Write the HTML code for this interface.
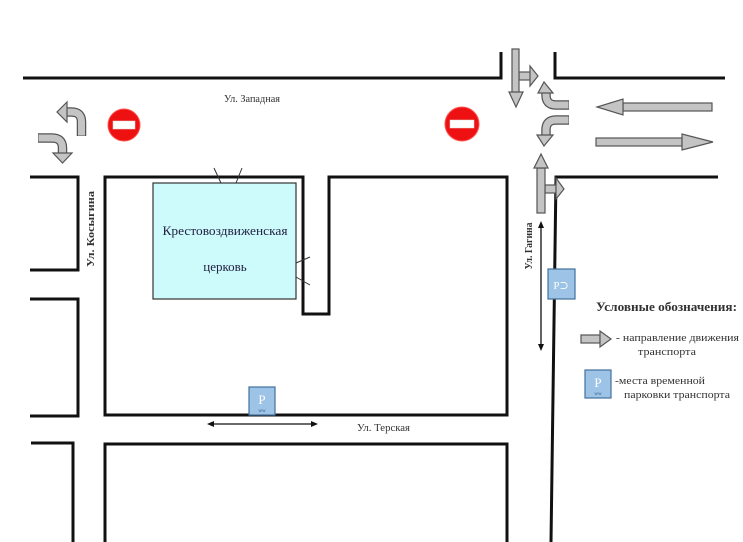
<!DOCTYPE html>
<html><head><meta charset="utf-8">
<style>
html,body{margin:0;padding:0;background:#fff;}
svg{display:block;}
text{font-family:"Liberation Serif","DejaVu Serif",serif;}
</style></head>
<body>
<svg width="743" height="542" viewBox="0 0 743 542" xmlns="http://www.w3.org/2000/svg">
<rect width="743" height="542" fill="#fff"/>
<g fill="none" stroke="#111" stroke-width="3" stroke-linejoin="miter">
  <polyline points="23,78 501,78 501,52"/>
  <polyline points="555,52 555,78 725,78"/>
  <polyline points="30,177 78,177 78,270 30,270"/>
  <polyline points="30,299 78,299 78,416 30,416"/>
  <polyline points="31,443 73,443 73,542"/>
  <path d="M105,177 L303,177 L303,314 L329,314 L329,177 L507,177 L507,415 L105,415 Z"/>
  <polyline points="105,542 105,444 507,444 507,542"/>
  <polyline points="718,177 556,177 551,542"/>
</g>

<!-- church -->
<rect x="153" y="183" width="143" height="116" fill="#cdfafa" stroke="#333" stroke-width="1.2"/>
<g stroke="#333" stroke-width="1">
  <line x1="214" y1="168" x2="221" y2="183"/>
  <line x1="242" y1="168" x2="236" y2="183"/>
  <line x1="296" y1="263" x2="310" y2="257"/>
  <line x1="296" y1="277" x2="310" y2="285"/>
</g>
<text x="225" y="235" font-size="13" fill="#224" text-anchor="middle" textLength="125" lengthAdjust="spacingAndGlyphs">Крестовоздвиженская</text>
<text x="225" y="271" font-size="13" fill="#224" text-anchor="middle">церковь</text>

<!-- no entry signs -->
<circle cx="124" cy="125" r="16" fill="#e11" stroke="#f55" stroke-width="1"/>
<rect x="113" y="121" width="22" height="8" fill="#fff" stroke="#ddd" stroke-width="0.5"/>
<circle cx="462" cy="124" r="17" fill="#e11" stroke="#f55" stroke-width="1"/>
<rect x="450" y="120" width="24" height="8" fill="#fff" stroke="#ddd" stroke-width="0.5"/>

<!-- street labels -->
<text x="224" y="102" font-size="10" fill="#333" textLength="56" lengthAdjust="spacingAndGlyphs">Ул. Западная</text>
<text x="357" y="431" font-size="10" fill="#333" textLength="53" lengthAdjust="spacingAndGlyphs">Ул. Терская</text>
<text transform="translate(94,229) rotate(-90)" font-size="10" font-weight="bold" fill="#333" text-anchor="middle" textLength="76" lengthAdjust="spacingAndGlyphs">Ул. Косыгина</text>
<text transform="translate(532,246) rotate(-90)" font-size="10" font-weight="bold" fill="#333" text-anchor="middle" textLength="47" lengthAdjust="spacingAndGlyphs">Ул. Гагина</text>

<!-- gray block arrows -->
<g fill="#c4c4c4" stroke="#555" stroke-width="1.2" stroke-linejoin="miter">
  <!-- left curved arrows -->
  <path d="M81.5,136 L81.5,122 Q81.5,112 71.5,112 L66,112" fill="none" stroke="#555" stroke-width="9.5"/>
  <path d="M81.5,135.5 L81.5,122 Q81.5,112 71.5,112 L66,112" fill="none" stroke="#c4c4c4" stroke-width="7"/>
  <polygon points="67,102 57,112 67,122"/>
  <path d="M38,138 L52,138 Q62.5,138 62.5,148 L62.5,154" fill="none" stroke="#555" stroke-width="9.5"/>
  <path d="M38.5,138 L52,138 Q62.5,138 62.5,148 L62.5,154" fill="none" stroke="#c4c4c4" stroke-width="7"/>
  <polygon points="53,153 72,153 62.5,163"/>

  <!-- down arrow with right branch -->
  <rect x="519" y="72" width="12" height="8"/>
  <polygon points="530,66 538,76 530,86"/>
  <rect x="512" y="49" width="7" height="44"/>
  <polygon points="509,92 523,92 516,107"/>

  <!-- curved up -->
  <path d="M569,105 L556,105 Q546,105 546,95 L546,92" fill="none" stroke="#555" stroke-width="9.5"/>
  <path d="M568.5,105 L556,105 Q546,105 546,95 L546,92" fill="none" stroke="#c4c4c4" stroke-width="7"/>
  <polygon points="538,93 553,93 544,82"/>
  <!-- curved down -->
  <path d="M569,120 L556,120 Q546,120 546,130 L546,136" fill="none" stroke="#555" stroke-width="9.5"/>
  <path d="M568.5,120 L556,120 Q546,120 546,130 L546,136" fill="none" stroke="#c4c4c4" stroke-width="7"/>
  <polygon points="537,135 553,135 544,146"/>

  <!-- up arrow with right branch -->
  <rect x="545" y="185" width="11" height="8"/>
  <polygon points="556,178 564,189 556,199"/>
  <rect x="537" y="168" width="8" height="45"/>
  <polygon points="534,168 548,168 541,154"/>

  <!-- horizontal arrows -->
  <rect x="623" y="103" width="89" height="8"/>
  <polygon points="623,99 623,115 597,107"/>
  <rect x="596" y="138" width="86" height="8"/>
  <polygon points="682,134 682,150 713,142"/>

  <!-- legend arrow -->
  <rect x="581" y="335" width="19" height="8"/>
  <polygon points="600,331 600,347 611,339"/>
</g>

<!-- double-headed arrows -->
<g stroke="#111" stroke-width="1.3" fill="#111">
  <line x1="541" y1="226" x2="541" y2="346"/>
  <polygon points="538,228 544,228 541,221" stroke="none"/>
  <polygon points="538,344 544,344 541,351" stroke="none"/>
  <line x1="212" y1="424" x2="313" y2="424"/>
  <polygon points="214,421 214,427 207,424" stroke="none"/>
  <polygon points="311,421 311,427 318,424" stroke="none"/>
</g>

<!-- parking icons -->
<g>
  <rect x="548" y="269" width="27" height="30" fill="#9dc3e6" stroke="#41719c" stroke-width="1.2"/>
  <text x="561" y="289" font-size="11" fill="#fff" text-anchor="middle">P⊃</text>
  <rect x="249" y="387" width="26" height="28" fill="#9dc3e6" stroke="#41719c" stroke-width="1.2"/>
  <text x="262" y="404" font-size="13" fill="#fff" text-anchor="middle">P</text>
  <text x="262" y="412" font-size="5" fill="#2a5a8a" text-anchor="middle">ww</text>
  <rect x="585" y="370" width="26" height="28" fill="#9dc3e6" stroke="#41719c" stroke-width="1.2"/>
  <text x="598" y="387" font-size="13" fill="#fff" text-anchor="middle">P</text>
  <text x="598" y="395" font-size="5" fill="#2a5a8a" text-anchor="middle">ww</text>
</g>

<!-- legend -->
<text x="596" y="311" font-size="13" font-weight="bold" fill="#333" textLength="141" lengthAdjust="spacingAndGlyphs">Условные обозначения:</text>
<text x="616" y="341" font-size="10" fill="#333" textLength="123" lengthAdjust="spacingAndGlyphs">-  направление движения</text>
<text x="638" y="355" font-size="10" fill="#333" textLength="58" lengthAdjust="spacingAndGlyphs">транспорта</text>
<text x="615" y="384" font-size="10" fill="#333" textLength="90" lengthAdjust="spacingAndGlyphs">-места временной</text>
<text x="624" y="398" font-size="10" fill="#333" textLength="106" lengthAdjust="spacingAndGlyphs">парковки транспорта</text>
</svg>
</body></html>
